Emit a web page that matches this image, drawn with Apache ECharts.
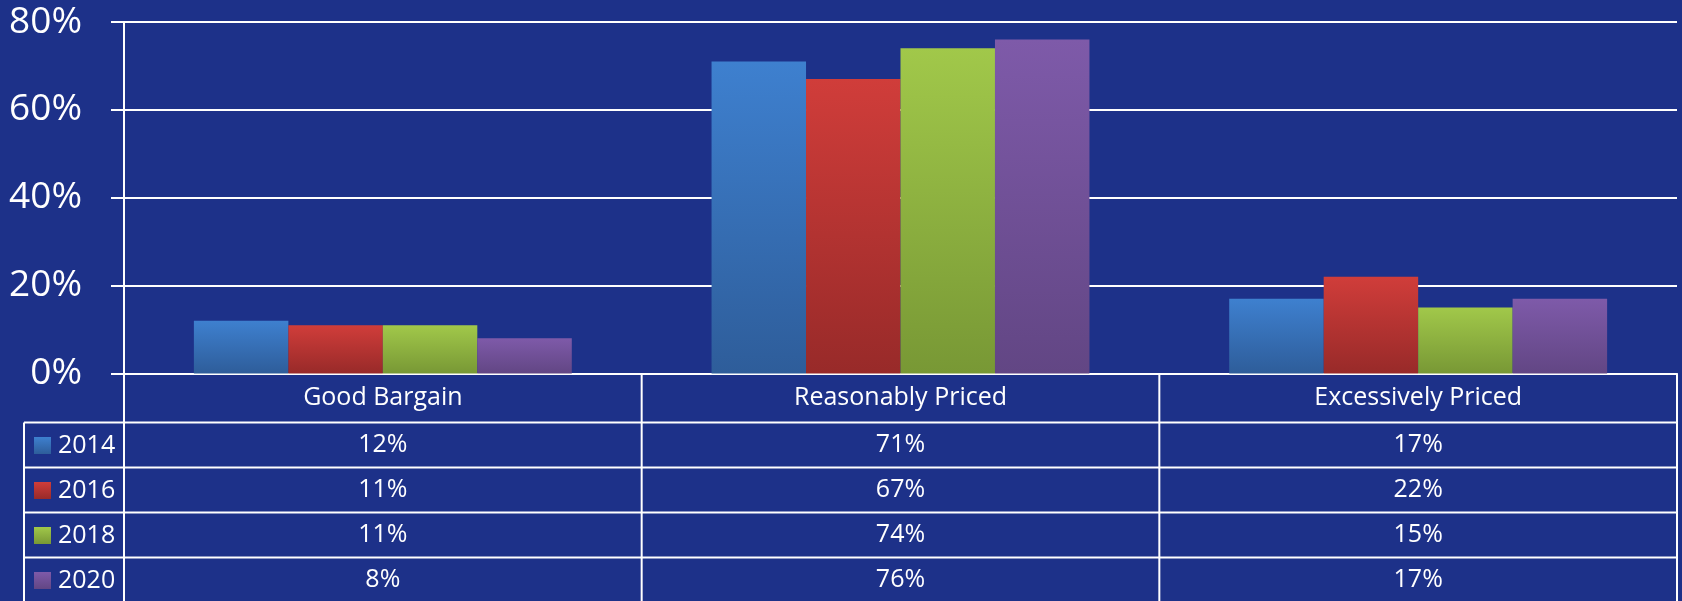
<!DOCTYPE html>
<html>
<head>
<meta charset="utf-8">
<title>Price perception</title>
<script src="https://cdn.jsdelivr.net/npm/echarts@6/dist/echarts.min.js"></script>
<style>
  html, body { margin: 0; padding: 0; background: #1d3189; }
  #main { width: 1682px; height: 601px; }
</style>
</head>
<body>
<div id="main"></div>
<script>
// 数据
var categories = ["Good Bargain", "Reasonably Priced", "Excessively Priced"];
var years = ["2014", "2016", "2018", "2020"];
var v2014 = [12, 71, 17];
var v2016 = [11, 67, 22];
var v2018 = [11, 74, 15];
var v2020 = [8, 76, 17];
var yTicks = [0, 20, 40, 60, 80];

var seriesValues = [v2014, v2016, v2018, v2020];
// 渐变色（上浅下深）
var barColors = [
  ["#3e80cf", "#2e5d9a"],
  ["#d03d3a", "#982a29"],
  ["#a1c84a", "#789835"],
  ["#7e5aa9", "#624684"]
];

var FONT = "Open Sans";
var headH = 49;
var rowH = 45;

function grad(c) {
  return new echarts.graphic.LinearGradient(0, 0, 0, 1, [
    { offset: 0, color: c[0] },
    { offset: 1, color: c[1] }
  ]);
}

var series = [];
for (var i = 0; i < years.length; i++) {
  series.push({
    name: years[i],
    type: "bar",
    data: seriesValues[i],
    barGap: "0%",
    barCategoryGap: "27%",
    itemStyle: {
      color: grad(barColors[i]),
      shadowBlur: 6,
      shadowColor: "rgba(0,0,0,0.35)"
    }
  });
}

var chart = echarts.init(document.getElementById("main"));
var option = {
  backgroundColor: "#1d3189",
  animation: false,
  grid: { left: 124, right: 5, top: 22, bottom: 227.5 },
  legend: {
    data: years,
    orient: "vertical",
    left: 34,
    top: 433,
    padding: 0,
    itemGap: 20,
    itemWidth: 17,
    itemHeight: 17,
    icon: "rect",
    textStyle: { color: "#ffffff", fontSize: 25, fontFamily: FONT, lineHeight: 25, padding: [0, 0, 0, 2] }
  },
  xAxis: {
    type: "category",
    data: categories,
    axisLine: { lineStyle: { color: "#ffffff", width: 2 } },
    axisTick: { show: false },
    axisLabel: {
      interval: 0,
      margin: 0,
      color: "#ffffff",
      fontFamily: FONT,
      formatter: function (val, idx) {
        var s = "{h|" + val + "}";
        for (var k = 0; k < seriesValues.length; k++) {
          s += "\n{v|" + seriesValues[k][idx] + "%}";
        }
        return s;
      },
      rich: {
        h: { fontSize: 25, lineHeight: headH, color: "#ffffff", fontFamily: FONT },
        v: { fontSize: 25, lineHeight: rowH, color: "#ffffff", fontFamily: FONT }
      }
    }
  },
  yAxis: {
    type: "value",
    min: yTicks[0],
    max: yTicks[yTicks.length - 1],
    interval: yTicks[1] - yTicks[0],
    axisLine: { show: true, lineStyle: { color: "#ffffff", width: 2 } },
    axisTick: { show: true, length: 13, lineStyle: { color: "#ffffff", width: 2 } },
    splitLine: { lineStyle: { color: "#ffffff", width: 2 } },
    axisLabel: {
      margin: 42,
      color: "#ffffff",
      fontSize: 37,
      fontFamily: FONT,
      formatter: "{value}%"
    }
  },
  series: series
};
chart.setOption(option);

// 表格线
var y0 = chart.convertToPixel({ yAxisIndex: 0 }, 0);
var c0 = chart.convertToPixel({ xAxisIndex: 0 }, categories[0]);
var c1 = chart.convertToPixel({ xAxisIndex: 0 }, categories[1]);
var band = c1 - c0;
var leftX = c0 - band / 2;
var rightX = leftX + band * categories.length;
var bottomY = 601;
var lineStyle = { stroke: "#ffffff", lineWidth: 2 };
var g = [];
for (var r = 0; r < years.length; r++) {
  var yy = y0 + headH + r * rowH;
  g.push({ type: "line", shape: { x1: 24, y1: yy, x2: rightX, y2: yy }, style: lineStyle });
}
g.push({ type: "line", shape: { x1: 24, y1: y0 + headH, x2: 24, y2: bottomY }, style: lineStyle });
for (var j = 0; j <= categories.length; j++) {
  var xx = leftX + j * band;
  g.push({ type: "line", shape: { x1: xx, y1: y0, x2: xx, y2: bottomY }, style: lineStyle });
}
chart.setOption({ graphic: g });
</script>
</body>
</html>
